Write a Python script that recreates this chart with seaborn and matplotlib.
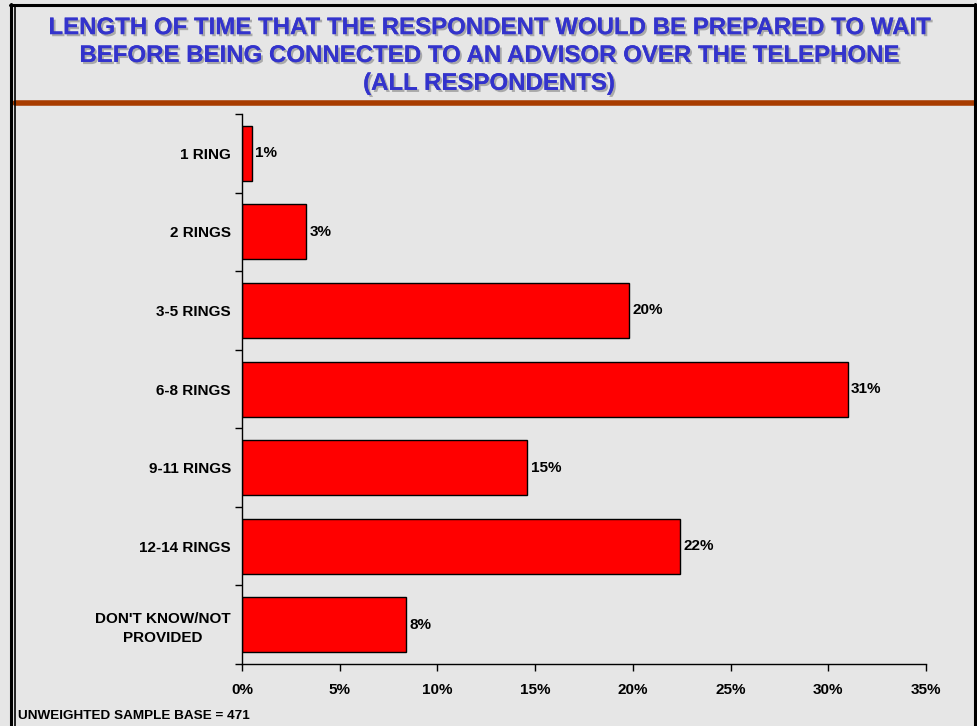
import matplotlib
matplotlib.use("Agg")
import matplotlib.pyplot as plt
import matplotlib.patheffects as pe
from matplotlib.lines import Line2D
import seaborn as sns
import pandas as pd

categories = ["1 RING", "2 RINGS", "3-5 RINGS", "6-8 RINGS", "9-11 RINGS",
              "12-14 RINGS", "DON'T KNOW/NOT\nPROVIDED"]
values = [0.5, 3.3, 19.8, 31.0, 14.6, 22.4, 8.4]
value_labels = ["1%", "3%", "20%", "31%", "15%", "22%", "8%"]
xticks = [0, 5, 10, 15, 20, 25, 30, 35]
title = ("LENGTH OF TIME THAT THE RESPONDENT WOULD BE PREPARED TO WAIT\n"
         "BEFORE BEING CONNECTED TO AN ADVISOR OVER THE TELEPHONE\n"
         "(ALL RESPONDENTS)")
footnote = "UNWEIGHTED SAMPLE BASE = 471"

sns.set_style("white")
plt.rcParams["font.family"] = ["Liberation Sans", "DejaVu Sans"]
plt.rcParams["font.weight"] = "bold"
plt.rcParams["text.color"] = "black"
plt.rcParams["xtick.color"] = "black"
plt.rcParams["ytick.color"] = "black"

bg = "#e6e6e6"
fig = plt.figure(figsize=(9.77, 7.26), dpi=100, facecolor=bg)
ax = fig.add_axes([242/977, 1-664/726, (926-242)/977, (664-114)/726])
ax.set_facecolor("none")

df = pd.DataFrame({"cat": categories, "val": values})
sns.barplot(data=df, x="val", y="cat", orient="h", color="#ff0000",
            saturation=1, edgecolor="black", linewidth=1, width=0.7, ax=ax)

for i, (v, lab) in enumerate(zip(values, value_labels)):
    ax.text(v + 0.17, i, lab, va="center", ha="left",
            fontsize=11, fontweight="bold", color="black")

ax.set_xlim(0, 35)
ax.set_ylim(len(categories) - 0.5, -0.5)
ax.set_xticks(xticks)
ax.set_xticklabels([f"{t}%" for t in xticks], fontsize=11, fontweight="bold")
ax.set_yticks(range(len(categories)))
ax.set_yticklabels(categories, fontsize=11, fontweight="bold", ha="right")
for t in ax.get_yticklabels():
    t.set_multialignment("center")
    t.set_linespacing(1.4)
ax.set_yticks([i - 0.5 for i in range(len(categories) + 1)], minor=True)
ax.tick_params(axis="y", which="major", left=False, length=0, pad=14)
ax.tick_params(axis="y", which="minor", left=True, length=5, width=1, color="black", direction="out")
ax.tick_params(axis="x", which="major", bottom=True, length=5, width=1, color="black", direction="out", pad=9)
# shift category labels closer to axis
for t in ax.get_yticklabels():
    t.set_x(0)
ax.tick_params(axis="y", which="major", pad=14 - 6)
ax.set_xlabel("")
ax.set_ylabel("")
for s in ["top", "right"]:
    ax.spines[s].set_visible(False)
for s in ["left", "bottom"]:
    ax.spines[s].set_color("black")
    ax.spines[s].set_linewidth(1)
ax.grid(False)

fig.text(489/977, 1-55.5/726, title, ha="center", va="center", fontsize=17.3,
         fontweight="bold", color="#3333cc", linespacing=1.27,
         path_effects=[pe.withSimplePatchShadow(offset=(1.5, -1.5), shadow_rgbFace="#9a9a9a", alpha=0.8),
                       pe.Normal()])
fig.text(18/977, 1-716/726, footnote, ha="left", va="center", fontsize=9.7,
         fontweight="bold", color="black")

W, H = 977, 726
fig.add_artist(Line2D([15/W, 974/W], [1-102.5/H, 1-102.5/H], color="#a83c00", lw=4, transform=fig.transFigure))
fig.add_artist(Line2D([10/W, 976/W], [1-5/H, 1-5/H], color="black", lw=2.2, transform=fig.transFigure))
fig.add_artist(Line2D([11/W, 11/W], [0, 1-4/H], color="black", lw=2.2, transform=fig.transFigure))
fig.add_artist(Line2D([14.8/W, 14.8/W], [0, 1-5/H], color="black", lw=1.2, transform=fig.transFigure))
fig.add_artist(Line2D([975/W, 975/W], [0, 1-4/H], color="black", lw=2.2, transform=fig.transFigure))

fig.savefig("out.png", dpi=100, facecolor=bg)
